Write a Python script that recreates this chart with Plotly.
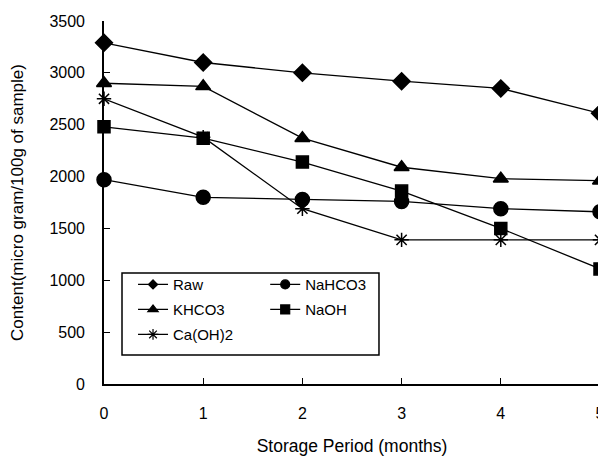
import plotly.graph_objects as go

months = [0, 1, 2, 3, 4, 5]
raw = [3290, 3100, 3000, 2920, 2850, 2610]
nahco3 = [1970, 1800, 1780, 1760, 1690, 1660]
khco3 = [2900, 2870, 2370, 2090, 1980, 1960]
naoh = [2480, 2370, 2140, 1860, 1500, 1110]
caoh2 = [2750, 2380, 1690, 1390, 1390, 1390]

x_ticks = [0, 1, 2, 3, 4, 5]
y_ticks = [0, 500, 1000, 1500, 2000, 2500, 3000, 3500]

series = [
    ("Raw", raw, "diamond", 13, 7, "legend"),
    ("NaHCO3", nahco3, "circle", 14, 9, "legend2"),
    ("KHCO3", khco3, "triangle-up", 13, 9, "legend"),
    ("NaOH", naoh, "square", 12, 9, "legend2"),
    ("Ca(OH)2", caoh2, "asterisk-open", 12, 9, "legend"),
]

FONT = "Liberation Sans, Arial, sans-serif"
fig = go.Figure()
for name, vals, sym, size, lsize, leg in series:
    fig.add_trace(go.Scatter(
        x=months, y=vals, mode="lines+markers", name=name,
        line=dict(color="black", width=1.3),
        marker=dict(symbol=sym, size=size, color="black",
                    line=dict(color="black", width=1.5)),
        showlegend=False, cliponaxis=False,
    ))
for name, vals, sym, size, lsize, leg in series:
    fig.add_trace(go.Scatter(
        x=[None], y=[None], mode="lines+markers", name=name,
        line=dict(color="black", width=1.3),
        marker=dict(symbol=sym, size=lsize, color="black",
                    line=dict(color="black", width=1.2)),
        legend=leg, legendgroup=name, showlegend=True,
    ))

# legend frame
fig.add_shape(type="rect", xref="paper", yref="paper",
              x0=0.0363, x1=0.5544, y0=0.0799, y1=0.3058,
              line=dict(color="black", width=1.5), fillcolor="white", layer="above")

fig.update_layout(
    width=598, height=449,
    margin=dict(l=96, r=6, t=13, b=73),
    paper_bgcolor="white", plot_bgcolor="white",
    font=dict(family=FONT, size=16, color="black"),
    xaxis=dict(
        range=[0, 5], tickvals=x_ticks, ticks="inside", ticklen=6,
        tickcolor="black", showline=True, linecolor="black", linewidth=2,
        showgrid=False, zeroline=False, ticklabelstandoff=14,
        ticklabeloverflow="allow", automargin=False,
        tickfont=dict(size=16),
        title=dict(text="Storage Period (months)", font=dict(size=17.5), standoff=19),
    ),
    yaxis=dict(
        range=[0, 3500], tickvals=y_ticks, ticks="inside", ticklen=6,
        tickcolor="black", showline=True, linecolor="black", linewidth=1.6,
        showgrid=False, zeroline=False, ticklabelstandoff=14,
        automargin=False,
        tickfont=dict(size=16),
        title=dict(text="Content(micro gram/100g of sample)", font=dict(size=17), standoff=24),
    ),
    legend=dict(
        x=0.0585, y=0.319, xanchor="left", yanchor="top",
        borderwidth=0, bgcolor="rgba(0,0,0,0)",
        font=dict(size=15), tracegroupgap=2.5, orientation="v",
    ),
    legend2=dict(
        x=0.325, y=0.319, xanchor="left", yanchor="top",
        borderwidth=0, bgcolor="rgba(0,0,0,0)",
        font=dict(size=15), tracegroupgap=2.5, orientation="v",
    ),
)

fig.write_html("out.html")
